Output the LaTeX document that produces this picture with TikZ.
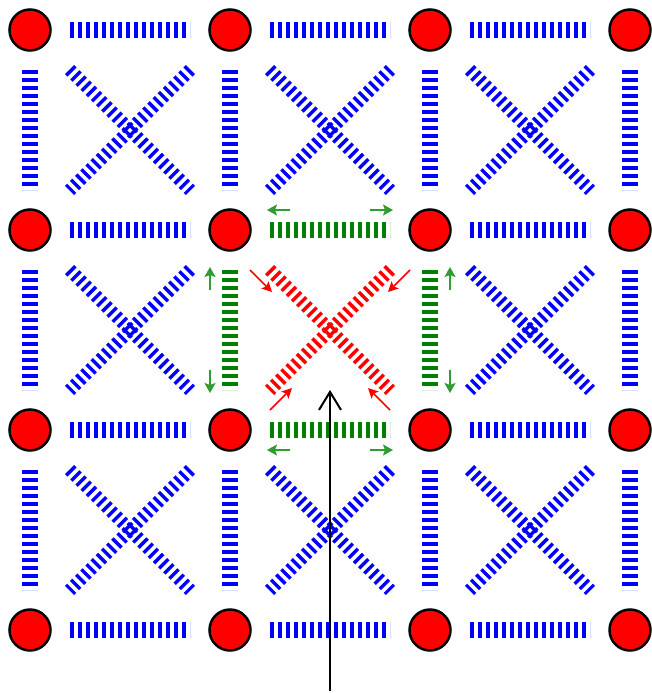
\documentclass[tikz,border=0pt]{standalone}
\usetikzlibrary{arrows.meta,calc}
\definecolor{sgreen}{RGB}{0,128,0}
\definecolor{fgreen}{RGB}{50,155,50}
\begin{document}
\begin{tikzpicture}[x=1pt,y=-1pt,
  mass/.style={circle,draw=black,fill=red,line width=2.5pt,minimum size=41pt,inner sep=0pt},
  sspring/.style={line width=16pt,dash pattern=on 4pt off 4pt,shorten <=40pt,shorten >=40pt},
  dspring/.style={line width=13pt,dash pattern=on 3.4pt off 3.9pt,shorten <=56pt,shorten >=56pt},
  gforce/.style={draw=fgreen,line width=2.6pt,-{Stealth[length=10pt,width=11pt,inset=2pt]},fgreen},
  rforce/.style={draw=red,line width=1.5pt,-{Stealth[length=10pt,width=10pt,inset=2pt]},red},
  pointer/.style={draw=black,line width=2pt,-{Straight Barb[length=18pt,width=22pt,line width=2pt]}}
]
\useasboundingbox (0,0) rectangle (652,693);
% masses (positions)
\foreach \i in {0,...,3}{
  \foreach \j in {0,...,3}{
    \coordinate (p\i\j) at (30+200*\i,30+200*\j);
  }
}
% horizontal springs
\foreach \i in {0,1,2}{
  \foreach \j in {0,...,3}{
    \pgfmathtruncatemacro\k{\i+1}
    \ifnum\i\j=11\relax\else\ifnum\i\j=12\relax\else
      \draw[sspring,blue] (p\i\j) -- (p\k\j);
    \fi\fi
  }
}
% vertical springs
\foreach \i in {0,...,3}{
  \foreach \j in {0,1,2}{
    \pgfmathtruncatemacro\k{\j+1}
    \ifnum\i\j=11\relax\else\ifnum\i\j=21\relax\else
      \draw[sspring,blue] (p\i\j) -- (p\i\k);
    \fi\fi
  }
}
% diagonal springs
\foreach \i in {0,1,2}{
  \foreach \j in {0,1,2}{
    \pgfmathtruncatemacro\k{\i+1}
    \pgfmathtruncatemacro\l{\j+1}
    \ifnum\i\j=11\relax\else
      \draw[dspring,blue] (p\i\j) -- (p\k\l);
      \draw[dspring,blue] (p\k\j) -- (p\i\l);
    \fi
  }
}
% central cell
\draw[sspring,sgreen] (p11) -- (p21);
\draw[sspring,sgreen] (p12) -- (p22);
\draw[sspring,sgreen] (p11) -- (p12);
\draw[sspring,sgreen] (p21) -- (p22);
\draw[dspring,red] (p11) -- (p22);
\draw[dspring,red] (p21) -- (p12);
% masses
\foreach \i in {0,...,3}{
  \foreach \j in {0,...,3}{
    \node[mass] (m\i\j) at (p\i\j) {};
  }
}
% green force arrows (stretching)
\coordinate (ta1) at ($(p11)+(60,-20)$); \coordinate (ta2) at ($(p11)+(37,-20)$);
\coordinate (tb1) at ($(p21)+(-60,-20)$); \coordinate (tb2) at ($(p21)+(-37,-20)$);
\coordinate (ba1) at ($(p12)+(60,20)$); \coordinate (ba2) at ($(p12)+(37,20)$);
\coordinate (bb1) at ($(p22)+(-60,20)$); \coordinate (bb2) at ($(p22)+(-37,20)$);
\coordinate (la1) at ($(p11)+(-20,60)$); \coordinate (la2) at ($(p11)+(-20,37)$);
\coordinate (lb1) at ($(p12)+(-20,-60)$); \coordinate (lb2) at ($(p12)+(-20,-37)$);
\coordinate (ra1) at ($(p21)+(20,60)$); \coordinate (ra2) at ($(p21)+(20,37)$);
\coordinate (rb1) at ($(p22)+(20,-60)$); \coordinate (rb2) at ($(p22)+(20,-37)$);
\foreach \s in {ta,tb,ba,bb,la,lb,ra,rb}{
  \draw[gforce] (\s1) -- (\s2);
}
% red force arrows (compression)
\coordinate (c1a) at (250,270); \coordinate (c1b) at (272,292);
\coordinate (c2a) at (410,270); \coordinate (c2b) at (388,292);
\coordinate (c3a) at (270,410); \coordinate (c3b) at (292,388);
\coordinate (c4a) at (390,410); \coordinate (c4b) at (368,388);
\foreach \s in {c1,c2,c3,c4}{
  \draw[rforce] (\s a) -- (\s b);
}
% pointer
\coordinate (tail) at (330,691);
\coordinate (tip) at (330,390);
\draw[pointer] (tail) -- (tip);
\end{tikzpicture}
\end{document}
